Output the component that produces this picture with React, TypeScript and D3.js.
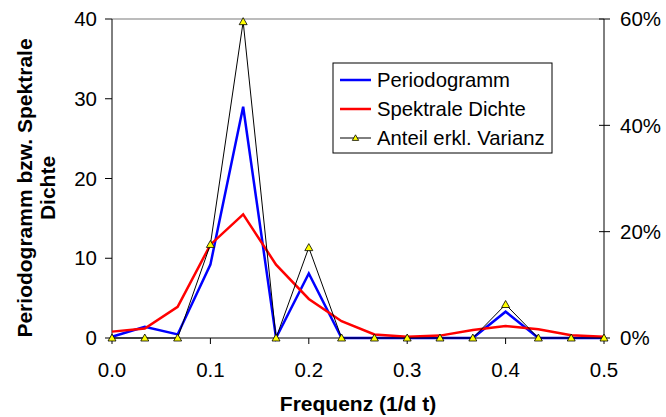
import React from "react";
import * as d3 from "d3";

const frequencies = [0, 0.0333, 0.0667, 0.1, 0.1333, 0.1667, 0.2, 0.2333, 0.2667, 0.3, 0.3333, 0.3667, 0.4, 0.4333, 0.4667, 0.5];
const periodogramm = [0.15, 1.4, 0.45, 9.2, 29.0, 0, 8.1, 0, 0, 0, 0, 0, 3.3, 0, 0, 0];
const spektraleDichte = [0.8, 1.2, 3.9, 11.7, 15.5, 9.2, 4.9, 2.1, 0.45, 0.15, 0.3, 1.0, 1.5, 1.1, 0.35, 0.15];
const anteilVarianz = [0, 0, 0, 0.176, 0.595, 0, 0.17, 0, 0, 0, 0, 0, 0.063, 0, 0, 0];

const xTicks = [0, 0.1, 0.2, 0.3, 0.4, 0.5];
const xTickLabels = ["0.0", "0.1", "0.2", "0.3", "0.4", "0.5"];
const yLeftTicks = [0, 10, 20, 30, 40];
const yRightTicks = [0, 0.2, 0.4, 0.6];
const yRightLabels = ["0%", "20%", "40%", "60%"];
const legendLabels = ["Periodogramm", "Spektrale Dichte", "Anteil erkl. Varianz"];

const FONT = "'Liberation Sans', Arial, Helvetica, sans-serif";

export default function App() {
  const W = 666, H = 417;
  const left = 112, right = 604, top = 19, bottom = 338;
  const x = d3.scaleLinear().domain([0, 0.5]).range([left, right]);
  const yL = d3.scaleLinear().domain([0, 40]).range([bottom, top]);
  const yR = d3.scaleLinear().domain([0, 0.6]).range([bottom, top]);

  const lineL = d3.line<number>().x((_, i) => x(frequencies[i])).y((d) => yL(d));
  const lineR = d3.line<number>().x((_, i) => x(frequencies[i])).y((d) => yR(d));

  const tri = (cx: number, cy: number, s = 4) =>
    `M${cx},${cy - s} L${cx + s},${cy + s * 0.75} L${cx - s},${cy + s * 0.75} Z`;

  const legX = 333, legY = 63, legW = 219, legH = 90;
  const rowY = [80, 109, 138];
  const legColors = ["#0000ff", "#ff0000", "#000000"];

  return (
    <svg width={W} height={H} style={{ position: "absolute", left: 0, top: 0, background: "#fff" }} fontFamily={FONT}>
      {/* top gray border */}
      <line x1={left} x2={right} y1={top} y2={top} stroke="#a6a6a6" strokeWidth={1.5} />
      {/* left axis */}
      <line x1={left} x2={left} y1={top} y2={bottom} stroke="#000" strokeWidth={1} />
      {yLeftTicks.map((t) => (
        <g key={"yl" + t}>
          <line x1={left - 7} x2={left} y1={yL(t)} y2={yL(t)} stroke="#000" />
          <text x={97} y={yL(t)} dy="0.35em" textAnchor="end" fontSize={20.5}>{t}</text>
        </g>
      ))}
      {/* right axis */}
      <line x1={right} x2={right} y1={top} y2={bottom} stroke="#000" strokeWidth={1} />
      {yRightTicks.map((t, i) => (
        <g key={"yr" + t}>
          <line x1={right - 5} x2={right + 6} y1={yR(t)} y2={yR(t)} stroke="#000" />
          <text x={620} y={yR(t)} dy="0.35em" textAnchor="start" fontSize={20.5}>{yRightLabels[i]}</text>
        </g>
      ))}
      {/* x axis */}
      <line x1={left} x2={right} y1={bottom} y2={bottom} stroke="#000" strokeWidth={1} />
      {xTicks.map((t, i) => (
        <g key={"x" + t}>
          <line x1={x(t)} x2={x(t)} y1={bottom} y2={bottom + 6} stroke="#000" />
          <text x={x(t)} y={376.5} textAnchor="middle" fontSize={20.5}>{xTickLabels[i]}</text>
        </g>
      ))}
      {/* axis titles */}
      <text x={358} y={411} textAnchor="middle" fontSize={21} fontWeight="bold">Frequenz (1/d t)</text>
      <g transform="translate(25,188) rotate(-90)">
        <text x={0} y={0} dy="0.35em" textAnchor="middle" fontSize={21} fontWeight="bold">Periodogramm bzw. Spektrale</text>
        <text x={0} y={23} dy="0.35em" textAnchor="middle" fontSize={21} fontWeight="bold">Dichte</text>
      </g>
      {/* series */}
      <path d={lineL(periodogramm) || ""} fill="none" stroke="#0000ff" strokeWidth={2.5} strokeLinejoin="miter" />
      <path d={lineL(spektraleDichte) || ""} fill="none" stroke="#ff0000" strokeWidth={2.5} />
      <path d={lineR(anteilVarianz) || ""} fill="none" stroke="#000" strokeWidth={1} />
      {anteilVarianz.map((v, i) => (
        <path key={"m" + i} d={tri(x(frequencies[i]), yR(v))} fill="#ffff00" stroke="#000" strokeWidth={0.8} />
      ))}
      {/* legend */}
      <rect x={legX} y={legY} width={legW} height={legH} fill="#fff" stroke="#000" strokeWidth={1} />
      {legendLabels.map((l, i) => (
        <g key={l}>
          <line x1={340} x2={371} y1={rowY[i]} y2={rowY[i]} stroke={legColors[i]} strokeWidth={i < 2 ? 2.5 : 1} />
          {i === 2 && <path d={tri(355.5, rowY[i], 3.2)} fill="#ffff00" stroke="#000" strokeWidth={0.8} />}
          <text x={377} y={rowY[i]} dy="0.35em" fontSize={20.3}>{l}</text>
        </g>
      ))}
    </svg>
  );
}
